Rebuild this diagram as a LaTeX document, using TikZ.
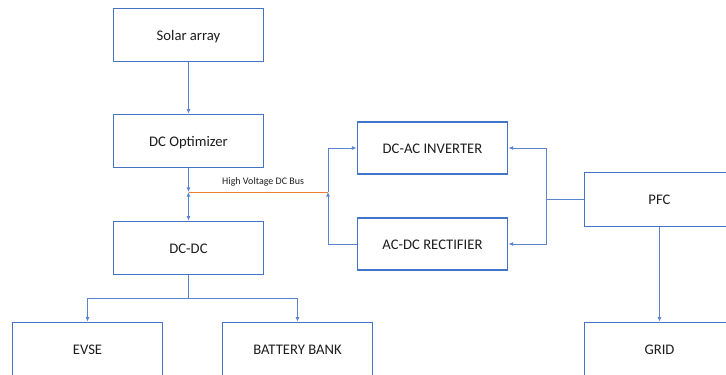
\documentclass[tikz,border=0pt]{standalone}
\usepackage{fontspec}
\setmainfont{Carlito}
\usepackage{xcolor}
\usepackage{tikz}
\usetikzlibrary{positioning,arrows.meta,calc}
\definecolor{BoxBlue}{HTML}{4472C4}
\definecolor{LinkBlue}{HTML}{5B84CF}
\definecolor{BusOrange}{HTML}{ED7D31}
\definecolor{LabelText}{HTML}{1E1E1E}

\tikzset{
  blockbox/.style={draw=BoxBlue, line width=0.9pt, fill=white,
    minimum width=113pt, minimum height=40pt, inner sep=0pt,
    text depth=0pt, text height=8pt,
    text=LabelText, font=\fontsize{11}{13}\selectfont},
  link/.style={draw=LinkBlue, line width=0.75pt,
    -{Latex[length=3.5pt,width=3pt]}},
  plainlink/.style={draw=LinkBlue, line width=0.75pt},
  busline/.style={draw=BusOrange, line width=0.75pt}
}

\begin{document}
\begin{tikzpicture}[x=0.75pt,y=-0.75pt]
      \useasboundingbox (0,0) rectangle (726,375);
      \clip (0,0) rectangle (726,375);

      % left column
      \node[blockbox] (solar) at (188.5,35) {Solar array};
      \node[blockbox] (dcopt) at (188.5,141) {DC Optimizer};
      \node[blockbox] (dcdc) at (188.5,248) {DC-DC};
      \node[blockbox] (evse) at (87.5,349) {EVSE};
      \node[blockbox] (battery) at (297.5,349) {BATTERY BANK};

      % middle and right
      \node[blockbox, minimum height=39pt] (inverter) at (432.5,148) {DC-AC INVERTER};
      \node[blockbox, minimum height=39pt] (rectifier) at (432.5,244) {AC-DC RECTIFIER};
      \node[blockbox] (pfc) at (659.5,199.5) {PFC};
      \node[blockbox] (grid) at (659.5,349) {GRID};

      % junction points
      \coordinate (bus) at (188.5,192);
      \coordinate (busR) at (328,192);
      \coordinate (pfcJ) at (546,199.5);
      \coordinate (split) at (188.5,298);

      % DC bus
      \draw[busline] (bus) -- (busR)
        node[pos=0.535, above=0.5pt, text=LabelText,
             font=\fontsize{7.5}{9}\selectfont] (buslabel) {High Voltage DC Bus};

      \draw[link] (solar) -- (dcopt);
      \draw[link] (dcopt) -- (bus);
      \draw[link, {Latex[length=3.5pt,width=3pt]}-{Latex[length=3.5pt,width=3pt]}] (bus) -- (dcdc);

      \draw[link] (busR) |- (inverter.west);
      \draw[link] (rectifier.west) -| (busR);

      \draw[plainlink] (pfc.west) -- (pfcJ);
      \draw[link] (pfcJ) |- (inverter.east);
      \draw[link] (pfcJ) |- (rectifier.east);
      \draw[link] (pfc) -- (grid);

      \draw[plainlink] (dcdc) -- (split);
      \draw[link] (split) -| (evse);
      \draw[link] (split) -| (battery);
    \end{tikzpicture}
\end{document}
